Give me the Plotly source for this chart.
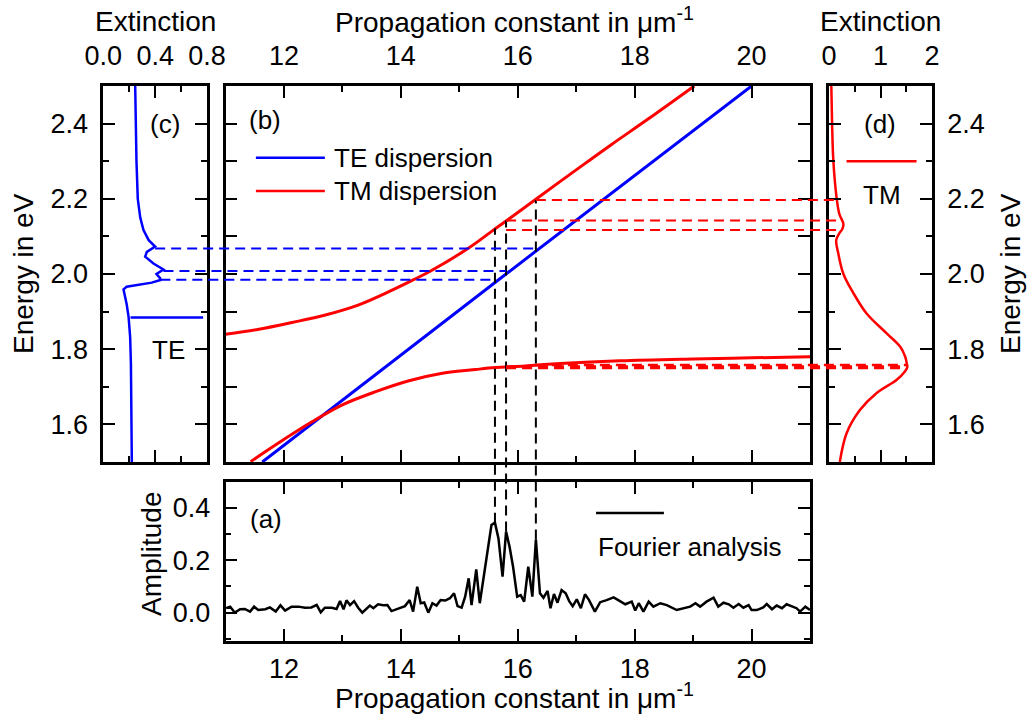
import plotly.graph_objects as go

W, H = 1027, 718
FONT = "Liberation Sans, Arial, sans-serif"
FS_TICK = 27
FS_TITLE = 28
FS_TEXT = 26

# ---------------- data ----------------
# (a) Fourier analysis amplitude
k_amp = [11.01, 11.08, 11.16, 11.25, 11.33, 11.42, 11.49, 11.56, 11.68, 11.76, 11.86, 11.94,
         12.02, 12.13, 12.25, 12.36, 12.47, 12.56, 12.63, 12.70, 12.82, 12.90, 12.96, 13.02,
         13.07, 13.13, 13.20, 13.27, 13.34, 13.41, 13.47, 13.53, 13.61, 13.70, 13.77, 13.84,
         13.99, 14.07, 14.15, 14.21, 14.28, 14.34, 14.40, 14.47, 14.54, 14.61, 14.68, 14.76,
         14.84, 14.91, 14.97, 15.04, 15.10, 15.16, 15.21, 15.29, 15.35, 15.41, 15.48, 15.55,
         15.61, 15.67, 15.74, 15.80, 15.86, 15.92, 15.99, 16.05, 16.11, 16.18, 16.25, 16.31,
         16.38, 16.44, 16.51, 16.56, 16.62, 16.68, 16.75, 16.82, 16.88, 16.94, 17.01, 17.08,
         17.15, 17.22, 17.32, 17.41, 17.52, 17.64, 17.72, 17.84, 17.95, 18.01, 18.07, 18.15,
         18.24, 18.32, 18.44, 18.55, 18.72, 18.84, 18.95, 19.04, 19.12, 19.23, 19.35, 19.43,
         19.52, 19.61, 19.69, 19.78, 19.86, 19.95, 20.00, 20.09, 20.20, 20.26, 20.35, 20.43,
         20.52, 20.60, 20.69, 20.77, 20.83, 20.92, 21.00]
amp = [0.017, 0.023, 0.000, 0.013, 0.014, 0.004, 0.023, 0.010, 0.013, 0.020, 0.004, 0.028,
       0.008, 0.023, 0.023, 0.019, 0.020, 0.030, 0.001, 0.019, 0.019, 0.014, 0.044, 0.013,
       0.047, 0.029, 0.044, 0.019, 0.000, 0.013, 0.027, 0.017, 0.032, 0.028, 0.029, 0.006,
       0.020, 0.025, 0.048, 0.004, 0.099, 0.036, 0.039, 0.000, 0.036, 0.027, 0.048, 0.046,
       0.055, 0.074, 0.025, 0.019, 0.061, 0.131, 0.029, 0.165, 0.036, 0.124, 0.239, 0.334,
       0.343, 0.283, 0.137, 0.309, 0.251, 0.175, 0.061, 0.067, 0.042, 0.175, 0.061, 0.279,
       0.074, 0.057, 0.083, 0.017, 0.071, 0.038, 0.086, 0.074, 0.044, 0.025, 0.051, 0.017,
       0.070, 0.048, 0.004, 0.040, 0.048, 0.058, 0.048, 0.032, 0.042, 0.008, 0.036, 0.004,
       0.042, 0.023, 0.036, 0.029, 0.010, 0.017, 0.023, 0.036, 0.023, 0.042, 0.057, 0.023,
       0.038, 0.032, 0.019, 0.033, 0.019, 0.029, 0.010, 0.010, 0.020, 0.033, 0.013, 0.027,
       0.017, 0.032, 0.023, 0.017, 0.004, 0.023, 0.010]

# (b) dispersion
k_te = [11.63, 15.80, 20.00]
E_te = [1.500, 2.000, 2.500]
k_tm_up = [11.0, 11.57, 12.14, 12.71, 13.28, 13.85, 14.22, 14.51, 15.16, 15.62, 15.96, 16.31,
           17.0, 17.6, 18.23, 19.02]
E_tm_up = [1.840, 1.853, 1.871, 1.891, 1.918, 1.957, 1.985, 2.008, 2.069, 2.121, 2.159, 2.199,
           2.277, 2.344, 2.412, 2.500]
k_tm_lo = [11.43, 11.86, 12.48, 13.0, 13.57, 14.14, 14.71, 15.28, 15.62, 16.13, 16.65, 17.75,
           19.0, 20.0, 21.0]
E_tm_lo = [1.501, 1.546, 1.607, 1.652, 1.687, 1.716, 1.736, 1.746, 1.751, 1.755, 1.761, 1.769,
           1.774, 1.777, 1.780]

# (c) TE extinction
E_ext_te = [2.50, 2.40, 2.30, 2.20, 2.15, 2.117, 2.09, 2.073, 2.059, 2.046, 2.028, 2.012, 2.0,
            1.989, 1.984, 1.977, 1.966, 1.959, 1.94, 1.92, 1.886, 1.833, 1.762, 1.674, 1.50]
ext_te = [0.246, 0.250, 0.256, 0.266, 0.285, 0.31, 0.35, 0.40, 0.336, 0.323, 0.387, 0.464, 0.41,
          0.438, 0.44, 0.374, 0.18, 0.156, 0.169, 0.18, 0.195, 0.207, 0.213, 0.215, 0.22]

# (d) TM extinction
E_ext_tm = [2.50, 2.40, 2.30, 2.20, 2.16, 2.133, 2.12, 2.108, 2.09, 2.055, 2.0, 1.95, 1.895,
            1.842, 1.807, 1.78, 1.762, 1.752, 1.74, 1.718, 1.683, 1.638, 1.576, 1.50]
ext_tm = [0.045, 0.06, 0.085, 0.15, 0.20, 0.28, 0.26, 0.20, 0.14, 0.18, 0.28, 0.47, 0.73,
          1.12, 1.38, 1.48, 1.51, 1.52, 1.47, 1.31, 0.92, 0.60, 0.34, 0.21]

# guide lines
mode_k = [15.61, 15.80, 16.31]
mode_amp = [0.343, 0.309, 0.279]
mode_E_top = [2.121, 2.142, 2.197]
te_E = [1.985, 2.008, 2.068]
te_ext = [0.44, 0.464, 0.40]
tm_up_E = [2.117, 2.142, 2.197]
tm_up_k = [15.80, 15.80, 16.31]
tm_up_ext = [0.16, 0.16, 0.12]
tm_lo_E = [1.750, 1.754, 1.758]
tm_lo_k = [15.80, 15.80, 16.31]
tm_lo_ext = [1.50, 1.51, 1.51]

# ---------------- layout geometry ----------------
XB = [225.5 / W, 810 / W]
YB = [1 - 462 / H, 1 - 86 / H]
XC = [103.3 / W, 207 / W]
XD = [829 / W, 932 / W]
YA = [1 - 641 / H, 1 - 482 / H]
RK = [11, 21]
RE = [1.5, 2.5]
RA = [-0.108, 0.498]
RC = [0, 0.8]
RD = [0, 2]


def tp(v, dom, rng):
    return dom[0] + (v - rng[0]) / (rng[1] - rng[0]) * (dom[1] - dom[0])


BLUE = "#0000ff"
RED = "#ff0000"

fig = go.Figure()
fig.add_trace(go.Scatter(x=k_amp, y=amp, mode="lines", line=dict(color="black", width=2.5),
                         xaxis="x", yaxis="y", showlegend=False))
fig.add_trace(go.Scatter(x=k_te, y=E_te, mode="lines", line=dict(color=BLUE, width=3),
                         xaxis="x2", yaxis="y2", showlegend=False))
fig.add_trace(go.Scatter(x=k_tm_up, y=E_tm_up, mode="lines", line=dict(color=RED, width=3, shape="spline"),
                         xaxis="x2", yaxis="y2", showlegend=False))
fig.add_trace(go.Scatter(x=k_tm_lo, y=E_tm_lo, mode="lines", line=dict(color=RED, width=3, shape="spline"),
                         xaxis="x2", yaxis="y2", showlegend=False))
fig.add_trace(go.Scatter(x=ext_te, y=E_ext_te, mode="lines", line=dict(color=BLUE, width=2.5),
                         xaxis="x3", yaxis="y3", showlegend=False))
fig.add_trace(go.Scatter(x=ext_tm, y=E_ext_tm, mode="lines", line=dict(color=RED, width=2.5, shape="spline"),
                         xaxis="x4", yaxis="y4", showlegend=False))

shapes = []
DASH = "10px,6px"
for k, a, e in zip(mode_k, mode_amp, mode_E_top):
    shapes.append(dict(type="line", xref="paper", yref="paper",
                       x0=tp(k, XB, RK), x1=tp(k, XB, RK),
                       y0=tp(a, YA, RA), y1=tp(e, YB, RE),
                       line=dict(color="black", width=2, dash=DASH)))
for e, x, k in zip(te_E, te_ext, mode_k):
    shapes.append(dict(type="line", xref="paper", yref="paper",
                       x0=tp(x, XC, RC), x1=tp(k, XB, RK),
                       y0=tp(e, YB, RE), y1=tp(e, YB, RE),
                       line=dict(color=BLUE, width=2, dash=DASH)))
for e, x, k in zip(tm_up_E, tm_up_ext, tm_up_k):
    shapes.append(dict(type="line", xref="paper", yref="paper",
                       x0=tp(k, XB, RK), x1=tp(x, XD, RD),
                       y0=tp(e, YB, RE), y1=tp(e, YB, RE),
                       line=dict(color=RED, width=2, dash=DASH)))
for e, x, k in zip(tm_lo_E, tm_lo_ext, tm_lo_k):
    shapes.append(dict(type="line", xref="paper", yref="paper",
                       x0=tp(k, XB, RK), x1=tp(x, XD, RD),
                       y0=tp(e, YB, RE), y1=tp(e, YB, RE),
                       line=dict(color=RED, width=2.5, dash=DASH)))

# legend samples
shapes.append(dict(type="line", xref="x2", yref="y2", x0=11.52, x1=12.70, y0=2.309, y1=2.309,
                   line=dict(color=BLUE, width=2.5)))
shapes.append(dict(type="line", xref="x2", yref="y2", x0=11.52, x1=12.70, y0=2.221, y1=2.221,
                   line=dict(color=RED, width=2.5)))
shapes.append(dict(type="line", xref="x3", yref="y3", x0=0.21, x1=0.77, y0=1.884, y1=1.884,
                   line=dict(color=BLUE, width=2.5)))
shapes.append(dict(type="line", xref="x4", yref="y4", x0=0.34, x1=1.70, y0=2.30, y1=2.30,
                   line=dict(color=RED, width=2.5)))
shapes.append(dict(type="line", xref="x", yref="y", x0=17.34, x1=18.50, y0=0.38, y1=0.38,
                   line=dict(color="black", width=2.5)))

tf = dict(family=FONT, size=FS_TICK, color="black")
ann = []


def text(x, y, s, xref="paper", yref="paper", xanchor="center", angle=0, size=FS_TEXT):
    ann.append(dict(x=x, y=y, text=s, xref=xref, yref=yref, xanchor=xanchor, yanchor="middle",
                    showarrow=False, font=dict(family=FONT, size=size, color="black"),
                    textangle=angle))


text(11.68, 2.41, "(b)", "x2", "y2")
text(12.82, 2.309, "TE dispersion", "x2", "y2", xanchor="left")
text(12.82, 2.221, "TM dispersion", "x2", "y2", xanchor="left")
text(0.477, 2.40, "(c)", "x3", "y3")
text(0.50, 1.798, "TE", "x3", "y3")
text(0.99, 2.40, "(d)", "x4", "y4")
text(1.02, 2.21, "TM", "x4", "y4")
text(11.69, 0.356, "(a)", "x", "y")
text(18.95, 0.25, "Fourier analysis", "x", "y")
# axis titles
mu = "Propagation constant in \u03bcm<sup>-1</sup>"
text(514 / W, 1 - 20 / H, mu, size=FS_TITLE)
text(514 / W, 1 - 696 / H, mu, size=FS_TITLE)
text(155 / W, 1 - 22 / H, "Extinction", size=FS_TITLE)
text(880 / W, 1 - 22 / H, "Extinction", size=FS_TITLE)
text(23 / W, 1 - 274 / H, "Energy in eV", angle=-90, size=FS_TITLE)
text(1010 / W, 1 - 274 / H, "Energy in eV", angle=-90, size=FS_TITLE)
text(151 / W, 1 - 554 / H, "Amplitude", angle=-90, size=FS_TITLE)


def axis(dom, rng, dtick, minor_dtick, anchor, side, labels=True, fmt=None, tick0=0, standoff=8):
    d = dict(domain=dom, range=rng, anchor=anchor, side=side, showline=True, linecolor="black",
             linewidth=2.5, mirror="allticks", ticks="inside", ticklen=12, tickwidth=2,
             tickcolor="black", showgrid=False, zeroline=False, tickfont=tf, dtick=dtick,
             tick0=tick0, showticklabels=labels, ticklabelstandoff=standoff, fixedrange=True,
             automargin=False)
    if fmt:
        d["tickformat"] = fmt
    if minor_dtick:
        d["minor"] = dict(ticks="inside", ticklen=6, tickwidth=2, tickcolor="black",
                          dtick=minor_dtick, showgrid=False)
    return d


fig.update_layout(
    width=W, height=H, margin=dict(l=0, r=0, t=0, b=0, pad=0), autosize=False,
    paper_bgcolor="white", plot_bgcolor="rgba(0,0,0,0)",
    font=tf, showlegend=False,
    xaxis=axis(XB, RK, 2, 1, "y", "bottom", standoff=2),
    yaxis=axis(YA, RA, 0.2, 0.1, "x", "left", fmt=".1f", standoff=7),
    xaxis2=axis(XB, RK, 2, 1, "y2", "top", standoff=7),
    yaxis2=axis(YB, RE, 0.1, None, "x2", "left", labels=False),
    xaxis3=axis(XC, RC, 0.4, 0.2, "y3", "top", fmt=".1f", standoff=7),
    yaxis3=axis(YB, RE, 0.2, 0.1, "x3", "left", fmt=".1f", standoff=7),
    xaxis4=axis(XD, RD, 1, 0.5, "y4", "top", standoff=7),
    yaxis4=axis(YB, RE, 0.2, 0.1, "x4", "right", fmt=".1f", standoff=7),
    shapes=shapes, annotations=ann,
)

fig.write_html("out.html")
